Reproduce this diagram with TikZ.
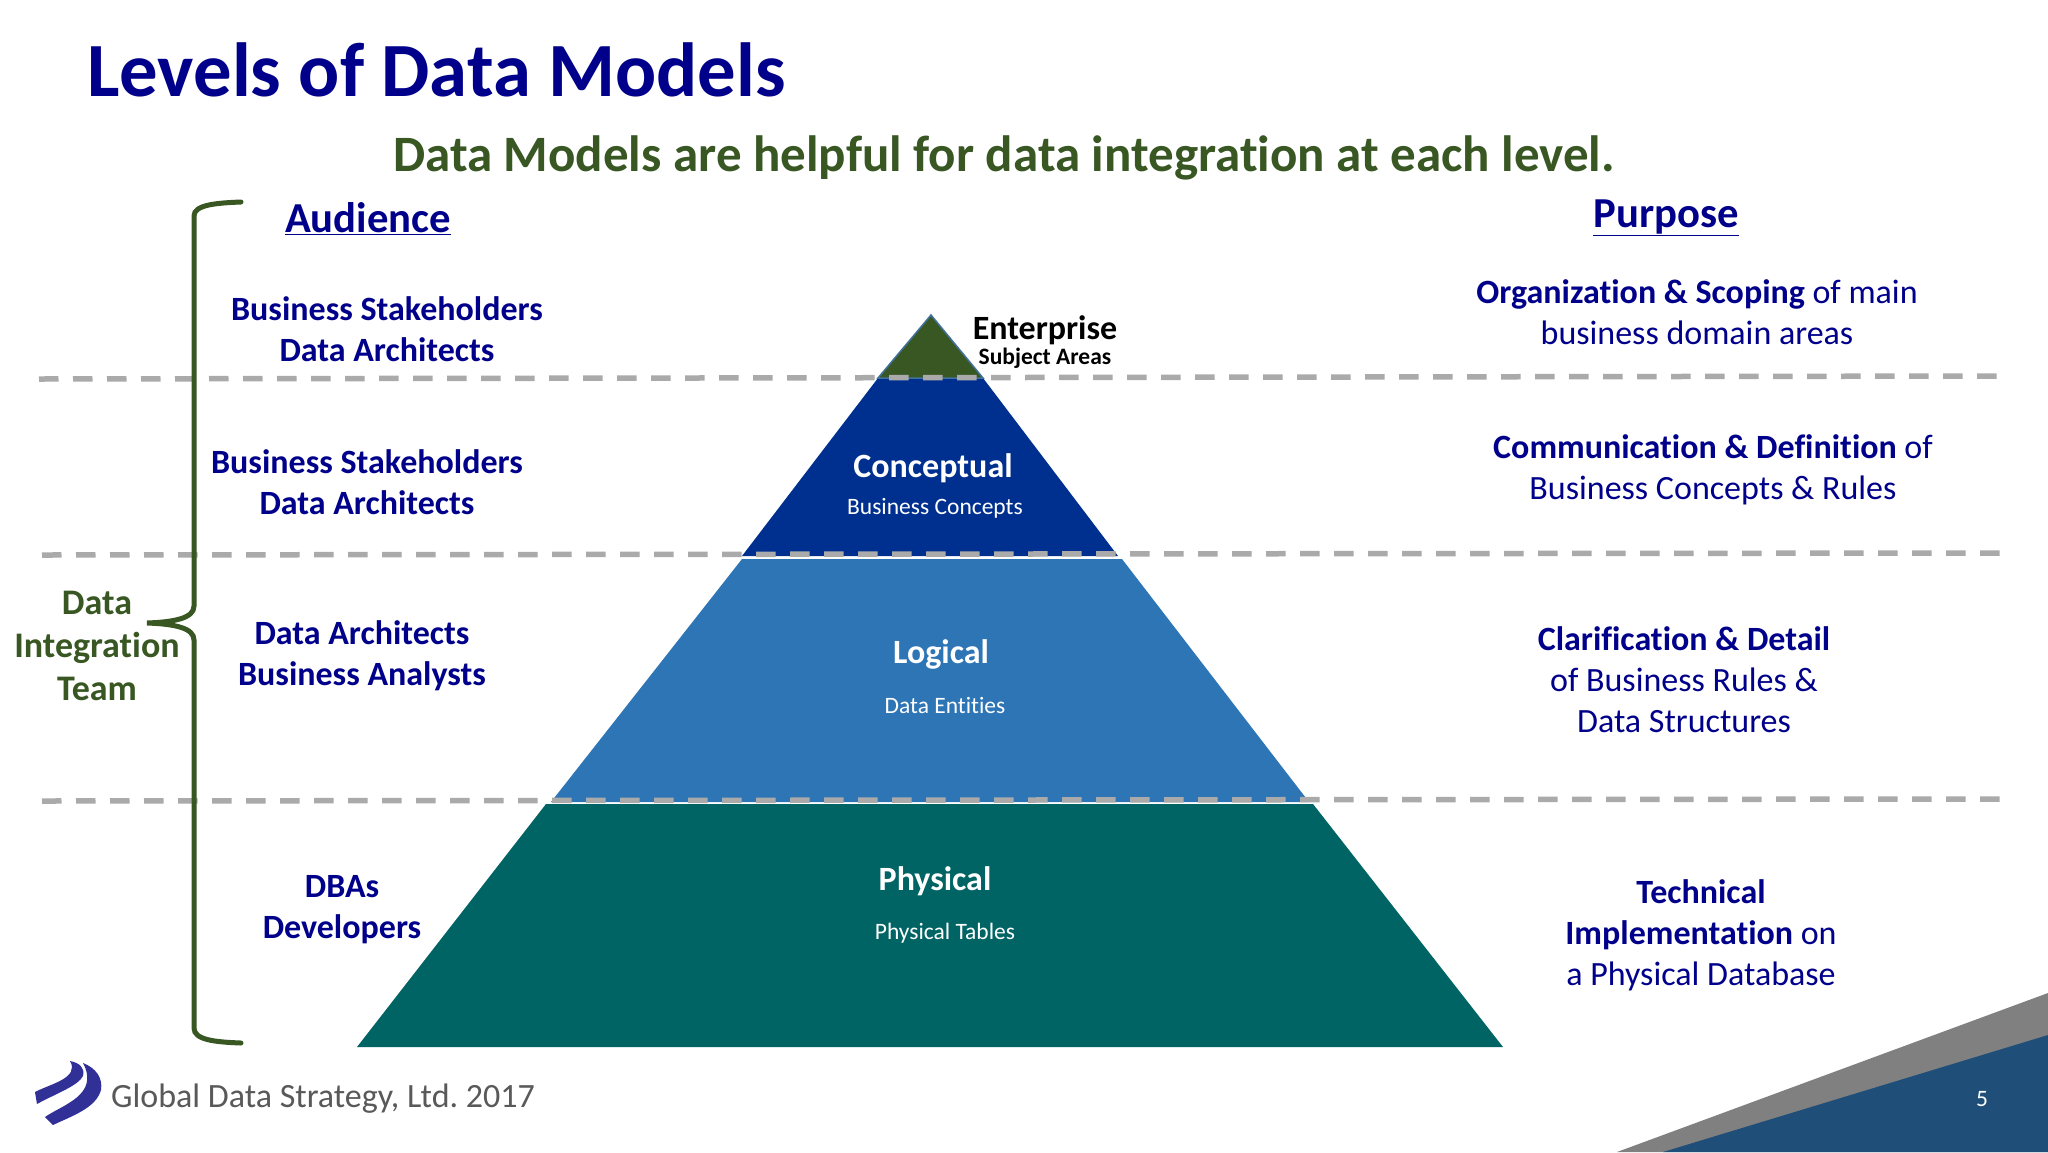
\documentclass[tikz,border=0pt]{standalone}
\usepackage{fontspec}
\setmainfont[Ligatures=CommonOff]{Carlito}
\definecolor{titleblue}{RGB}{0,0,139}
\definecolor{leafgreen}{RGB}{56,87,35}
\definecolor{conceptblue}{RGB}{0,48,143}
\definecolor{logicblue}{RGB}{46,117,182}
\definecolor{physteal}{RGB}{0,100,100}
\definecolor{edgeblue}{RGB}{65,113,156}
\definecolor{dashgray}{RGB}{170,170,170}
\definecolor{footgray}{RGB}{89,89,89}
\definecolor{wedgegray}{RGB}{128,128,128}
\definecolor{wedgeblue}{RGB}{31,78,121}
\definecolor{logoblue}{RGB}{48,48,150}
\tikzset{
  audience/.style={align=center,text=titleblue,font=\fontsize{34}{41}\selectfont\bfseries},
  purpose/.style={align=center,text=titleblue,font=\fontsize{34}{41}\selectfont},
  heading/.style={text=titleblue,font=\fontsize{42.7}{48}\selectfont\bfseries},
  levelname/.style={text=white,font=\fontsize{34}{38}\selectfont\bfseries},
  leveldata/.style={text=white,font=\fontsize{23.5}{26}\selectfont},
  dashline/.style={draw=dashgray,line width=5.5pt,dash pattern=on 19.5pt off 14.5pt},
}
\begin{document}
\begin{tikzpicture}[x=1pt,y=-1pt]
      \useasboundingbox (0,0) rectangle (2048,1152);
      \fill[white] (0,0) rectangle (2048,1152);
      %this draws the pyramid
      \fill[physteal] (546,804) -- (1313,804) -- (1503,1047) -- (357,1047) -- cycle;
      \fill[logicblue] (742,559) -- (1122,559) -- (1309,802) -- (551,802) -- cycle;
      \fill[conceptblue] (878,378) -- (983,378) -- (1118,556) -- (742,556) -- cycle;
      \filldraw[fill=leafgreen,draw=edgeblue,line width=1.5pt] (931,315) -- (983,378) -- (878,378) -- cycle;
      %this draws the dashed lines
      \coordinate (d1l) at (39,379);
      \coordinate (d1r) at (2003,376);
      \coordinate (d2l) at (42,555);
      \coordinate (d2r) at (2003,553);
      \coordinate (d3l) at (42,801);
      \coordinate (d3r) at (2003,799);
      \foreach \x in {1,2,3}
        \draw[dashline] (d\x l) to (d\x r);
      %this draws the brace
      \draw[leafgreen,line width=5pt,line cap=round] (241,202)
        .. controls (215,203) and (194,205) .. (194,216) -- (194,606)
        .. controls (194,618) and (175,622) .. (147,623)
        .. controls (175,624) and (194,628) .. (194,640) -- (194,1028)
        .. controls (194,1040) and (215,1042) .. (241,1043);
      %this draws the bottom corner
      \fill[wedgegray] (1617,1152) -- (2048,993) -- (2048,1152) -- cycle;
      \fill[wedgeblue] (1663,1152) -- (2048,1035) -- (2048,1152) -- cycle;
      %this draws the logo
      \fill[logoblue] (70,1061) .. controls (80,1063) and (85,1068) .. (83,1076)
        .. controls (78,1086) and (55,1094) .. (37,1104) -- (35,1092)
        .. controls (50,1084) and (80,1078) .. (70,1061) -- cycle;
      \fill[logoblue] (83,1063) .. controls (96,1068) and (103,1078) .. (101,1090)
        .. controls (96,1108) and (72,1116) .. (53,1125) -- (45,1117)
        .. controls (62,1105) and (100,1095) .. (83,1063) -- cycle;
      %this draws the texts
      \node[anchor=base west,inner sep=0pt,text=titleblue,font=\fontsize{76.7}{84}\selectfont\bfseries] (title) at (87,96) {Levels of Data Models};
      \node[anchor=base,text=leafgreen,font=\fontsize{51}{58}\selectfont\bfseries] (subtitle) at (1004,171) {Data Models are helpful for data integration at each level.};
      \node[heading,anchor=base] (audhead) at (368,232) {\underline{Audience}};
      \node[heading,anchor=base] (purhead) at (1666,227) {\underline{Purpose}};
      \node[audience] (aud1) at (387,329) {Business Stakeholders\\Data Architects};
      \node[audience] (aud2) at (367,482) {Business Stakeholders\\Data Architects};
      \node[audience] (aud3) at (362,656) {Data Architects\\Business Analysts};
      \node[audience] (aud4) at (342,910) {DBAs\\Developers};
      \node[purpose] (pur1) at (1697,312) {\textbf{Organization \& Scoping} of main\\business domain areas};
      \node[purpose] (pur2) at (1713,470) {\textbf{Communication \& Definition} of\\Business Concepts \& Rules};
      \node[purpose] (pur3) at (1684,680) {\textbf{Clarification \& Detail}\\of Business Rules \&\\Data Structures};
      \node[purpose] (pur4) at (1701,935) {\textbf{Technical}\\\textbf{Implementation} on\\a Physical Database};
      \node[align=center,text=leafgreen,font=\fontsize{36}{43}\selectfont\bfseries] (team) at (97,646) {Data\\Integration\\Team};
      \node[text=black,font=\fontsize{34}{36}\selectfont\bfseries] (entname) at (1045,330) {Enterprise};
      \node[text=black,font=\fontsize{23.5}{26}\selectfont\bfseries] (entdata) at (1045,358) {Subject Areas};
      \node[levelname] (conname) at (933,468) {Conceptual};
      \node[leveldata] (condata) at (935,508) {Business Concepts};
      \node[levelname] (logname) at (941,654) {Logical};
      \node[leveldata] (logdata) at (945,705) {Data Entities};
      \node[levelname] (phyname) at (935,881) {Physical};
      \node[leveldata] (phydata) at (945,933) {Physical Tables};
      \node[anchor=base west,inner sep=0pt,text=footgray,font=\fontsize{34}{38}\selectfont\frenchspacing] (footer) at (111,1107) {Global Data Strategy, Ltd. 2017};
      \node[text=white,font=\fontsize{23.5}{26}\selectfont] (pageno) at (1982,1099) {5};
    \end{tikzpicture}
\end{document}
